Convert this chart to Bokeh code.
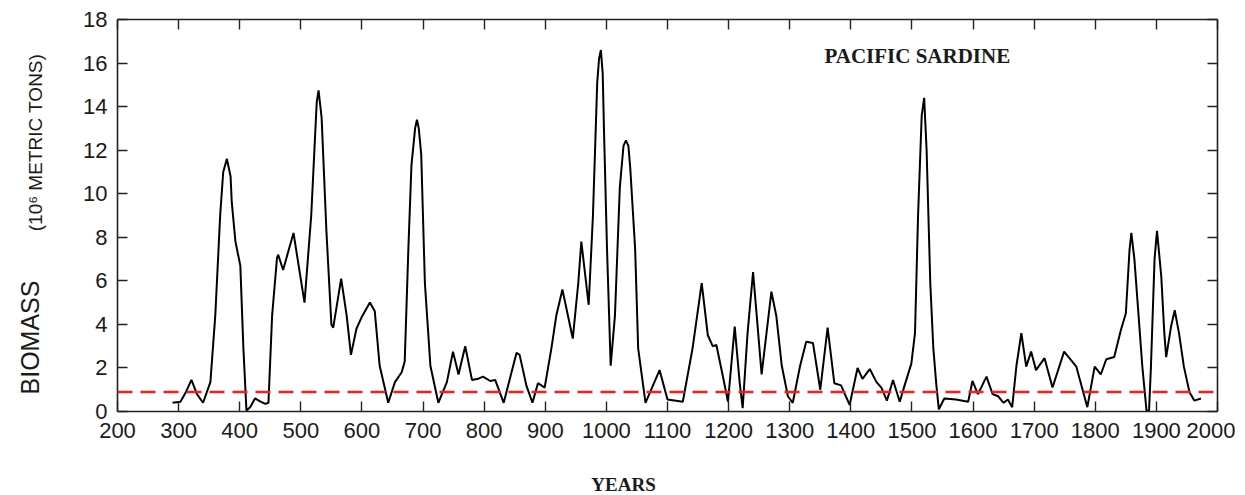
from bokeh.plotting import figure
from bokeh.layouts import row, column
from bokeh.models import Range1d, LinearAxis, FixedTicker, Span, Label
from bokeh.embed import file_html
from bokeh.resources import INLINE
import math

# ---- data ----
years = [290, 303, 312, 321, 330, 340, 352, 360, 368, 373, 379, 385, 387, 393, 401, 406, 411,
         417, 425, 434, 442, 447, 453, 461, 463, 471, 488, 506, 517, 526, 529, 534, 542,
         550, 553, 566, 575, 582, 591, 599, 613, 621, 629, 643, 654, 665, 670, 676,
         681, 687, 690, 693, 697, 703, 712, 725, 739, 749, 758, 769, 780, 790, 798, 810, 818,
         832, 853, 858, 869, 879, 888, 899, 910, 918, 928, 945, 954, 959, 971, 978,
         985, 988, 991, 994, 996, 1001, 1007, 1014, 1022, 1028, 1032, 1036, 1039, 1047, 1052, 1064,
         1087, 1100, 1125,
         1141, 1156, 1166, 1174, 1180, 1190, 1199, 1210, 1218, 1223, 1231, 1240, 1246, 1254, 1262,
         1270, 1278, 1287, 1297, 1305, 1317, 1327, 1338, 1350, 1362, 1373, 1384, 1398, 1411, 1419,
         1431, 1442, 1450, 1459, 1469, 1480, 1488, 1499, 1505, 1510, 1516, 1520, 1524, 1530, 1535,
         1540, 1544, 1553, 1572, 1592, 1599, 1608, 1622, 1632, 1641, 1650, 1657, 1664, 1671, 1679,
         1687, 1695, 1703, 1717, 1730, 1749, 1769, 1787, 1799, 1809, 1818, 1831, 1842, 1850, 1856,
         1859, 1864, 1869, 1877, 1884, 1888, 1891, 1897, 1901, 1908, 1913, 1916, 1924, 1930, 1937,
         1945, 1954, 1962, 1973]
biomass = [0.4, 0.45, 0.9, 1.45, 0.8, 0.4, 1.35, 4.4, 9.0, 11.0, 11.6, 10.8, 9.6, 7.8, 6.7, 2.9, 0.05,
           0.2, 0.6, 0.45, 0.35, 0.4, 4.4, 7.05, 7.2, 6.5, 8.2, 5.0, 9.0, 14.2, 14.75, 13.5, 8.2,
           4.0, 3.85, 6.1, 4.4, 2.6, 3.8, 4.3, 5.0, 4.6, 2.1, 0.4, 1.35, 1.8, 2.3, 7.5,
           11.3, 13.0, 13.4, 13.0, 11.8, 5.9, 2.1, 0.4, 1.35, 2.75, 1.7, 3.0, 1.45, 1.5, 1.6, 1.4, 1.45,
           0.4, 2.7, 2.6, 1.2, 0.4, 1.3, 1.1, 2.9, 4.4, 5.6, 3.35, 5.9, 7.8, 4.9, 9.0,
           15.1, 16.2, 16.6, 15.5, 13.0, 7.5, 2.1, 4.4, 10.3, 12.2, 12.45, 12.2, 11.2, 7.5, 2.9, 0.4,
           1.9, 0.55, 0.45,
           2.9, 5.9, 3.5, 3.0, 3.05, 1.7, 0.45, 3.9, 1.35, 0.15, 3.6, 6.4, 4.4, 1.7, 3.6,
           5.5, 4.4, 2.1, 0.7, 0.4, 2.1, 3.2, 3.15, 1.0, 3.85, 1.3, 1.2, 0.3, 2.0, 1.5,
           1.95, 1.35, 1.1, 0.5, 1.45, 0.45, 1.2, 2.2, 3.6, 9.0, 13.6, 14.4, 12.0, 5.9, 2.9,
           1.2, 0.1, 0.6, 0.55, 0.45, 1.4, 0.8, 1.6, 0.8, 0.7, 0.4, 0.55, 0.2, 2.1, 3.6,
           2.06, 2.75, 1.9, 2.45, 1.1, 2.75, 2.06, 0.2, 2.06, 1.7, 2.4, 2.5, 3.75, 4.5, 7.4,
           8.2, 7.0, 5.1, 2.06, 0.0, 0.05, 2.0, 7.0, 8.3, 6.2, 3.6, 2.5, 3.9, 4.65, 3.6,
           2.06, 0.9, 0.5, 0.6]
threshold = 0.9
x_ticks = list(range(200, 2001, 100))
y_ticks = list(range(0, 19, 2))

H = 460          # height of the chart row
HB = 35          # height of the strip carrying the x-axis title
LW = 58          # width of the strip carrying the y-axis title
PW = 1177        # width of the main figure


def blank(fig):
    fig.axis.visible = False
    fig.grid.visible = False
    fig.outline_line_color = None
    return fig


# ---- narrow left figure that only carries the rotated y-axis title ----
left = blank(figure(width=LW, height=H, output_backend="svg", toolbar_location=None,
                    x_range=Range1d(0, 1), y_range=Range1d(0, 1), min_border=0))
left.add_layout(Label(x=29, y=74, x_units="screen", y_units="screen", text="BIOMASS",
                      angle=math.pi / 2, text_font="Liberation Sans", text_font_size="25px",
                      text_baseline="middle", text_align="center", text_color="#1a1a1a"))
left.add_layout(Label(x=35, y=269, x_units="screen", y_units="screen",
                      text="(10\u2076 METRIC TONS)",
                      angle=math.pi / 2, text_font="Liberation Sans", text_font_size="19px",
                      text_baseline="middle", text_align="center", text_color="#1a1a1a"))

# ---- main figure ----
p = figure(width=PW, height=H, output_backend="svg", toolbar_location=None,
           x_range=Range1d(200, 2000), y_range=Range1d(0, 18),
           min_border_left=59, min_border_right=18, min_border_top=19, min_border_bottom=H - 411)
p.xgrid.visible = False
p.ygrid.visible = False
p.outline_line_color = None

axis_color = "#222222"

def style_axis(ax, labels=True):
    ax.axis_line_color = axis_color
    ax.axis_line_width = 1.6
    ax.major_tick_line_color = axis_color
    ax.major_tick_line_width = 1.4
    ax.major_tick_in = 10
    ax.major_tick_out = 0
    ax.minor_tick_line_color = None
    if labels:
        ax.major_label_text_font = "Liberation Sans"
        ax.major_label_text_font_size = "22px"
        ax.major_label_text_color = "#1a1a1a"
    else:
        ax.major_label_text_font_size = "0px"
        ax.major_label_text_color = None
        ax.major_label_standoff = 0

p.xaxis.ticker = FixedTicker(ticks=x_ticks)
p.yaxis.ticker = FixedTicker(ticks=y_ticks)
style_axis(p.xaxis[0])
style_axis(p.yaxis[0])
p.xaxis.major_label_standoff = 11
p.yaxis.major_label_standoff = 10

top = LinearAxis(ticker=FixedTicker(ticks=x_ticks))
style_axis(top, labels=False)
p.add_layout(top, "above")
right = LinearAxis(ticker=FixedTicker(ticks=y_ticks))
style_axis(right, labels=False)
p.add_layout(right, "right")

# threshold line
p.add_layout(Span(location=threshold, dimension="width", line_color="#ff1a1a",
                  line_width=2.5, line_dash="15 8"))

# biomass curve
p.line(years, biomass, line_color="black", line_width=2)

# in-plot title
p.add_layout(Label(x=707, y=356, x_units="screen", y_units="screen", text="PACIFIC SARDINE",
                   text_font="Liberation Serif", text_font_style="bold", text_font_size="21px",
                   text_baseline="middle", text_align="left", text_color="#1a1a1a"))

# ---- bottom strip with the x-axis title ----
bottom = blank(figure(width=LW + PW, height=HB, output_backend="svg", toolbar_location=None,
                      x_range=Range1d(0, 1), y_range=Range1d(0, 1),
                      min_border_left=117, min_border_right=18, min_border_top=0,
                      min_border_bottom=0))
bottom.add_layout(Label(x=506, y=11, x_units="screen", y_units="screen", text="YEARS",
                        text_font="Liberation Serif", text_font_style="bold", text_font_size="19px",
                        text_baseline="middle", text_align="center", text_color="#1a1a1a"))

layout = column(row(left, p), bottom)
open("out.html", "w").write(file_html(layout, INLINE))
